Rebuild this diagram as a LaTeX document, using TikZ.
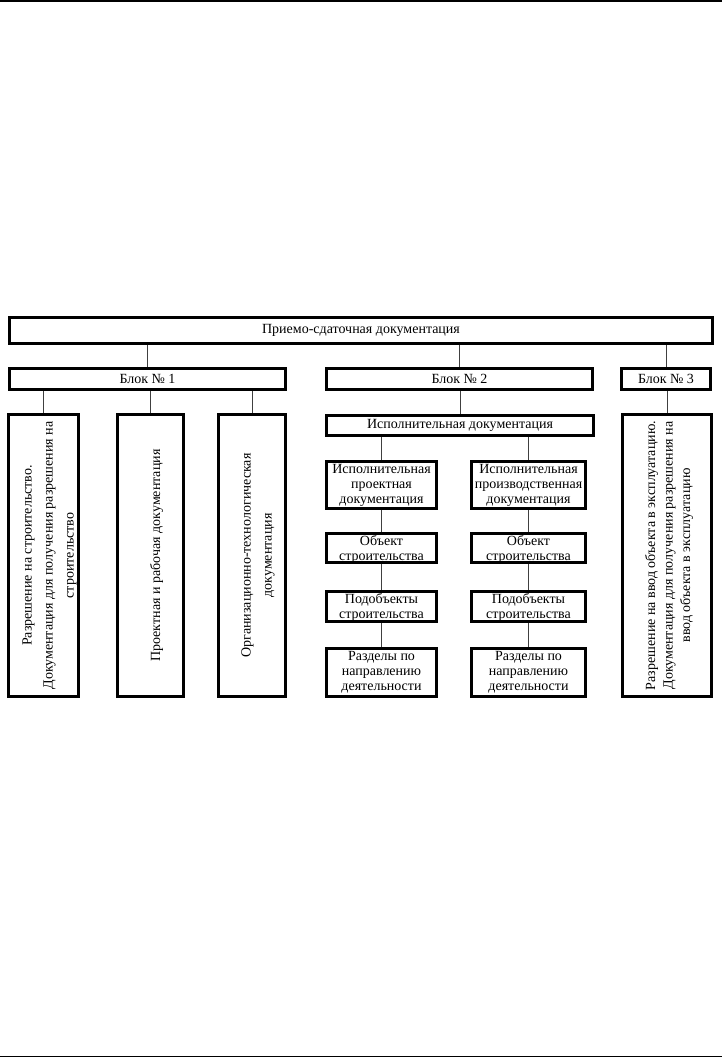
\documentclass[tikz,border=0pt]{standalone}
\usepackage{fontspec}
\setmainfont{Liberation Serif}
\begin{document}
\begin{tikzpicture}[x=1pt,y=-1pt,
  bx/.style={draw, line width=2.6pt, inner sep=0pt, minimum width=#1},
  conn/.style={draw=black!75, line width=0.9pt},
  txt/.style={font=\fontsize{14}{15}\selectfont, align=center, inner sep=0pt},
  rtxt/.style={font=\fontsize{14}{21}\selectfont, align=center, inner sep=0pt, rotate=90},
  rtxtb/.style={font=\fontsize{14}{17.5}\selectfont, align=center, inner sep=0pt, rotate=90}]
\useasboundingbox (0,0) rectangle (722,1058);
\draw[line width=1.5pt] (0,1) -- (722,1);
\draw[line width=1.5pt] (0,1056.5) -- (722,1056.5);

% level 0
\node[bx=703.4pt, minimum height=26.4pt] (top) at (361,330.5) {};
\node[txt] (toptxt) at (top.center) {Приемо-сдаточная документация};
% level 1
\node[bx=276.4pt, minimum height=21.4pt] (b1) at (147.5,379) {};
\node[txt] (b1t) at (b1.center) {Блок № 1};
\node[bx=266.4pt, minimum height=21.4pt] (b2) at (459.5,379) {};
\node[txt] (b2t) at (b2.center) {Блок № 2};
\node[bx=89.4pt, minimum height=21.4pt] (b3) at (666,379) {};
\node[txt] (b3t) at (b3.center) {Блок № 3};
% block 1 children
\node[bx=70.4pt, minimum height=282.4pt] (c11) at (43.5,555.5) {};
\node[rtxt] (c11t) at ([xshift=6pt]c11.center) {Разрешение на строительство.\\Документация для получения разрешения на\\строительство};
\node[bx=66.4pt, minimum height=282.4pt] (c12) at (150.5,555.5) {};
\node[rtxt] (c12t) at ([xshift=6pt]c12.center) {Проектная и рабочая документация};
\node[bx=67.4pt, minimum height=282.4pt] (c13) at (252,555.5) {};
\node[rtxt] (c13t) at ([xshift=6pt]c13.center) {Организационно-технологическая\\документация};
% block 3 child
\node[bx=89.4pt, minimum height=282.4pt] (c31) at (667,555.5) {};
\node[rtxtb] (c31t) at ([xshift=2pt]c31.center) {Разрешение на ввод объекта в эксплуатацию.\\Документация для получения разрешения на\\ввод объекта в эксплуатацию};
% block 2 children
\node[bx=267.4pt, minimum height=20.4pt] (ed) at (460,425.5) {};
\node[txt] (edt) at (ed.center) {Исполнительная документация};

\node[bx=110.4pt, minimum height=47.4pt] (l1) at (381.5,485) {};
\node[txt] at (l1.center) {Исполнительная\\проектная\\документация};
\node[bx=110.4pt, minimum height=29.4pt] (l2) at (381.5,548) {};
\node[txt] at ([yshift=-1.5pt]l2.center) {Объект\\строительства};
\node[bx=110.4pt, minimum height=30.4pt] (l3) at (381.5,606.5) {};
\node[txt] at ([yshift=-1pt]l3.center) {Подобъекты\\строительства};
\node[bx=110.4pt, minimum height=48.4pt] (l4) at (381.5,672.5) {};
\node[txt] at (l4.center) {Разделы по\\направлению\\деятельности};

\node[bx=114.4pt, minimum height=47.4pt] (r1) at (528.5,485) {};
\node[txt] at (r1.center) {Исполнительная\\производственная\\документация};
\node[bx=114.4pt, minimum height=29.4pt] (r2) at (528.5,548) {};
\node[txt] at ([yshift=-1.5pt]r2.center) {Объект\\строительства};
\node[bx=114.4pt, minimum height=30.4pt] (r3) at (528.5,606.5) {};
\node[txt] at ([yshift=-1pt]r3.center) {Подобъекты\\строительства};
\node[bx=114.4pt, minimum height=48.4pt] (r4) at (528.5,672.5) {};
\node[txt] at (r4.center) {Разделы по\\направлению\\деятельности};

% connectors
\foreach \p/\c in {top/b1, top/b2, top/b3, b1/c11, b1/c12, b1/c13, b3/c31, b2/ed,
                   ed/l1, l1/l2, l2/l3, l3/l4, ed/r1, r1/r2, r2/r3, r3/r4}
  \draw[conn] (\p.south -| \c.north) -- (\c.north);
\end{tikzpicture}
\end{document}
